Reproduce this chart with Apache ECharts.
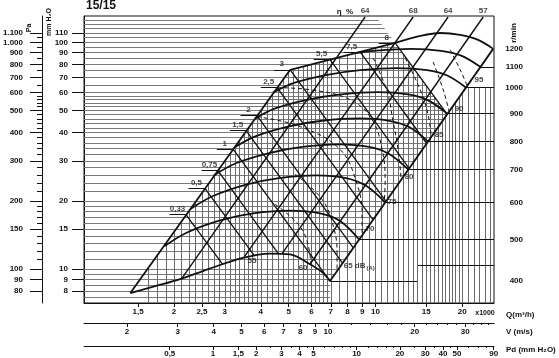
<!DOCTYPE html>
<html><head><meta charset="utf-8">
<script src="https://cdn.jsdelivr.net/npm/echarts@6/dist/echarts.min.js"></script>
<style>html,body{margin:0;padding:0;background:#fff}#c{width:559px;height:358px}</style>
</head><body><div id="c"></div>
<script>
// ---------- tick values ----------
const qTicks = [1.5,2,2.5,3,4,5,6,7,8,9,10,15,20];
const vTicks = [2,3,4,5,6,7,8,9,10,20,30];
const vMinor = [12,14,16,18,22,24,26,28,32,34,36];
const pdTicks = [0.5,1,1.5,2,3,4,5,10,20,30,40,50,90];
const pdMinor = [2.5,3.5,4.5,6,7,8,9,12,14,16,18,25,35,45,60,70,80];
const mmTicks = [8,9,10,15,20,30,40,50,60,70,80,90,100,110];
const paTicks = [80,90,100,150,200,300,400,500,600,700,800,900,1000,1100];
const paMinor = [110,120,130,140,160,170,180,190,220,240,260,280,320,340,360,380,420,440,460,480,520,540,560,580,650,750,850,950,1050];
const rpmLabels = ['400','500','600','700','800','900','1000','1100','1200'];

// ---------- background grid (values and extents) ----------
const hVals = [7.5,8,8.5,9,9.5,10,11,12,13,14,15,16,17,18,19,20,22,24,26,28,30,32,34,36,38,40,42,44,46,48,50,52,54,56,58,60,65,70,75,80,85,90,95,100,105,110,115,120,125];
const hEnd = [6.96,6.96,6.96,7.0,7.24,7.45,7.85,8.24,8.61,8.97,9.31,9.66,9.99,10.30,10.62,10.92,11.51,12.08,12.63,13.16,13.66,14.16,14.64,15.11,15.57,16.02,16.45,16.88,17.30,17.72,17.35,16.98,16.60,16.26,15.95,15.64,14.94,14.32,13.76,13.27,12.80,12.39,12.02,11.67,11.35,11.04,10.78,10.51,10.27];
const vVals = [1.625,1.75,1.875,2,2.125,2.25,2.375,2.5,2.625,2.75,2.875,3,3.125,3.25,3.375,3.5,3.625,3.75,3.875,4,4.2,4.4,4.6,4.8,5,5.2,5.4,5.6,5.8,6,6.2,6.4,6.6,6.8,7,7.5,8,8.5,9,9.5,10,10.5,11,11.5,12,12.5,13,13.5,14,14.5,15,15.5,16,16.5,17,17.5,18,18.5,19,19.5,20,21,22,23,24,25];
const vTop = [10.1,11.5,13.1,14.6,16.3,18.0,19.8,21.7,23.7,25.7,27.9,30.0,32.2,34.6,37.0,39.4,42.0,44.5,47.2,50.0,54.5,59.1,64.0,69.0,74.2,76.4,77.3,78.3,79.1,80.0,80.9,81.7,82.6,83.3,84.2,86.1,87.9,89.6,91.2,92.9,94.4,96.0,97.5,98.8,95.2,88.7,82.8,77.6,72.7,68.5,64.6,60.9,57.6,54.7,51.8,49.3,49.4,51.9,54.5,57.1,59.8,63.4,63.4,63.4,63.4,63.4];

// ---------- fan region outline ----------
const leftEdge = [[1.41,7.84],[5.06,75.7]];
const topEdge = [[5.06,75.7],[11.71,99.4]];
const rightEdge = [[6.96,8.85],[25.63,93.6]];

// ---------- speed curves (r/min) ----------
const arc400 = [[1.41,7.84],[1.72,8.41],[2.10,9.03],[2.63,10.0],[3.47,11.2],[4.31,11.7],[5.06,11.6],[5.93,10.5],[6.53,9.69],[6.96,8.85]];
const arc500 = [[1.85,12.6],[2.22,14.5],[2.89,16.4],[3.76,17.6],[5.06,18.1],[6.43,17.6],[7.54,16.3],[8.78,13.5]];
const arc600 = [[2.28,18.4],[2.73,21.0],[3.56,23.6],[4.63,25.2],[6.23,25.9],[7.91,25.2],[9.28,23.3],[10.81,19.7]];
const arc700 = [[2.75,25.9],[3.28,29.3],[4.28,32.5],[5.57,34.6],[7.48,35.5],[9.51,34.6],[11.16,32.2],[12.99,27.5]];
const arc800 = [[3.25,34.5],[3.85,38.6],[5.02,42.6],[6.53,45.1],[8.78,46.2],[11.16,45.1],[13.09,42.3],[15.24,36.5]];
const arc900 = [[3.82,46.1],[4.49,51.1],[5.84,55.9],[7.60,58.9],[10.22,60.3],[12.99,58.9],[15.24,55.5],[17.75,48.5]];
const arc1000 = [[4.41,60.0],[5.22,66.2],[6.80,71.9],[8.85,75.4],[11.90,77.0],[15.12,75.4],[17.75,71.4],[20.65,63.1]];
const arc1100 = [[8.51,89.6],[9.90,91.8],[13.31,93.6],[16.91,91.8],[19.85,87.4],[23.1,78.0]];
const arc1200 = [[11.71,99.4],[14.30,106.7],[16.78,110.0],[19.69,107.9],[22.73,102.5],[25.63,93.6]];
const rpmLineEnd = [13.96,25.8,25.8,25.8,25.8,25.8,25.8,25.8,25.8];
const extraLevel = [[14.07,10.41],[25.8,10.41]];

// ---------- efficiency lines ----------
const etaLabels = ['64','68','64','57'];
const eta1 = [[2.12,9.03],[9.21,129.4]];
const eta2 = [[3.50,11.3],[13.52,129.4]];
const eta3 = [[4.74,11.7],[17.88,129.4]];
const eta4 = [[5.93,10.5],[23.66,129.4]];

// ---------- power lines ----------
const powerLabels = ['0,33','0,5','0,75','1','1,5','2','2,5','3','5,5','7,5','8'];
const pw033 = [[2.20,17.4],[2.95,10.5]];
const pw05 = [[2.56,22.7],[3.81,11.4]];
const pw075 = [[2.84,27.2],[4.59,11.75]];
const pw1 = [[3.21,33.7],[6.96,8.85]];
const pw15 = [[3.56,40.8],[7.70,10.6]];
const pw2 = [[3.88,47.5],[8.38,12.4]];
const pw25 = [[4.56,63.1],[9.82,16.5]];
const pw3 = [[5.06,75.7],[10.88,19.9]];
const pw55 = [[6.96,84.0],[13.09,27.8]];
const pw75 = [[8.85,90.8],[15.07,35.8]];
const pw8 = [[11.71,99.4],[17.75,48.1]];

// ---------- noise lines dB(A) ----------
const n60 = [[4.49,19.3],[5.39,15.8],[5.79,13.3],[5.98,10.5]];
const n65 = [[5.26,26.2],[6.53,20.3],[7.19,15.0],[7.36,11.6],[7.36,9.8]];
const n70 = [[3.88,47.0],[5.48,42.5],[7.54,33.7],[8.64,23.6],[8.99,17.4],[8.99,14.1]];
const n75 = [[4.56,63.1],[5.93,61.8],[8.17,55.9],[9.74,45.6],[10.55,33.7],[10.81,24.9],[10.72,19.3]];
const n80 = [[9.82,85.4],[10.98,60.6],[11.52,44.7],[11.99,33.7],[12.28,24.9]];
const n85 = [[12.68,85.4],[14.30,61.8],[15.24,48.0],[15.61,38.4]];
const n90 = [[15.86,82.0],[17.19,61.8],[18.03,49.5]];
const n95 = [[18.18,92.7],[19.69,75.7],[20.82,64.4]];
const noiseLabels = ['55','60','65 dB','70','75','80','85','90','95'];
const noisePos = [[3.73,10.84],[5.61,10.1],[7.73,10.3],[9.21,15.0],[10.98,19.9],[12.58,25.6],[15.99,39.2],[18.76,51.0],[22.0,68.4]];

// ---------- axis ranges ----------
const Q_MIN = 0.974, Q_MAX = 25.8, P_MIN = 7.085, P_MAX = 130.7;

const FONT = 'Liberation Sans, Arial, sans-serif';
const txt = {fontFamily: FONT, fontWeight: 'bold', fontSize: 8, color: '#111'};
const BLACK = '#111';
const fmtComma = v => String(Math.round(v * 1000) / 1000).replace('.', ',');
const fmtPa = v => { const r = Math.round(v); return r >= 1000 ? Math.floor(r / 1000) + '.' + String(r % 1000).padStart(3, '0') : String(r); };
const arcsList = [arc400, arc500, arc600, arc700, arc800, arc900, arc1000, arc1100, arc1200];
const rpmP = arcsList.map(a => a[a.length - 1][1]);
const fmtRpm = v => { let b = 0, bd = 1e9; rpmP.forEach((p, i) => { const d = Math.abs(Math.log(v / p)); if (d < bd) { bd = d; b = i; } }); return rpmLabels[b]; };

const hideAll = {axisLine: {show: false}, axisTick: {show: false}, axisLabel: {show: false}, splitLine: {show: false}};
function logAxis(extra) {
  return Object.assign({type: 'log', logBase: 10, gridIndex: 0, splitLine: {show: false}, axisLine: {onZero: false, lineStyle: {color: BLACK, width: 1}}}, extra);
}

const series = [];
// grid lines
series.push({type: 'lines', coordinateSystem: 'cartesian2d', xAxisIndex: 0, yAxisIndex: 0, silent: true, z: 1,
  lineStyle: {color: '#7a7a7a', width: 1, opacity: 1},
  data: hVals.map((p, i) => ({coords: [[Q_MIN, p], [hEnd[i], p]]}))});
series.push({type: 'lines', coordinateSystem: 'cartesian2d', xAxisIndex: 0, yAxisIndex: 0, silent: true, z: 1,
  lineStyle: {color: '#6a6a6a', width: 1, opacity: 1},
  data: vVals.map((q, i) => ({coords: [[q, P_MIN], [q, vTop[i]]]}))});
// r/min level lines at the right
const levelData = arcsList.slice(0, 8).map((a, i) => ({coords: [a[a.length - 1], [rpmLineEnd[i], a[a.length - 1][1]]]}));
levelData.push({coords: extraLevel});
series.push({type: 'lines', coordinateSystem: 'cartesian2d', xAxisIndex: 0, yAxisIndex: 0, silent: true, z: 2,
  lineStyle: {color: BLACK, width: 1, opacity: 1}, data: levelData});

function line(data, width, extra) {
  return Object.assign({type: 'line', xAxisIndex: 0, yAxisIndex: 0, data: data, showSymbol: false, symbol: 'none', silent: true, z: 3,
    lineStyle: {color: BLACK, width: width}, animation: false}, extra || {});
}
// outline
[leftEdge, topEdge, rightEdge].forEach(d => series.push(line(d, 1.8)));
// speed curves
arcsList.forEach(a => series.push(line(a, 1.8, {smooth: 0.35})));
// efficiency lines
[eta1, eta2, eta3, eta4].forEach(d => series.push(line(d, 1.4)));
// power lines
const powerList = [pw033, pw05, pw075, pw1, pw15, pw2, pw25, pw3, pw55, pw75, pw8];
powerList.forEach(d => series.push(line(d, 1.3)));
// noise lines (dashed)
[n60, n65, n70, n75, n80, n85, n90, n95].forEach(d => series.push(line(d, 1, {smooth: 0.4, lineStyle: {color: BLACK, width: 1, type: [4, 3]}})));
// power label leaders
series.push({type: 'lines', coordinateSystem: 'cartesian2d', xAxisIndex: 0, yAxisIndex: 0, silent: true, z: 3,
  lineStyle: {color: BLACK, width: 1, opacity: 1},
  data: powerList.map(d => ({coords: [[d[0][0] / 1.14, d[0][1]], d[0]]}))});
// labels
series.push({type: 'scatter', xAxisIndex: 0, yAxisIndex: 0, silent: true, z: 6, symbolSize: 1, itemStyle: {color: 'transparent'},
  label: Object.assign({show: true, position: 'top', distance: 1}, txt),
  data: powerList.map((d, i) => ({value: [d[0][0] / 1.07, d[0][1]], label: {formatter: powerLabels[i]}}))});
series.push({type: 'scatter', xAxisIndex: 0, yAxisIndex: 0, silent: true, z: 6, symbolSize: 1, itemStyle: {color: 'transparent'},
  label: Object.assign({show: true, position: 'top', distance: 2}, txt),
  data: [eta1, eta2, eta3, eta4].map((d, i) => ({value: d[1], label: {formatter: etaLabels[i]}}))});
series.push({type: 'scatter', xAxisIndex: 0, yAxisIndex: 0, silent: true, z: 6, symbolSize: 1, itemStyle: {color: 'transparent'},
  label: Object.assign({show: true, position: 'right', distance: 0, rich: {s: {fontFamily: FONT, fontWeight: 'bold', fontSize: 6, color: '#111', padding: [5, 0, 0, 1]}}}, txt),
  data: noisePos.map((p, i) => ({value: p, label: i < 2 ? {position: 'inside', formatter: noiseLabels[i]} : {formatter: i === 2 ? noiseLabels[i] + '{s|(A)}' : noiseLabels[i]}}))});

const option = {
  animation: false,
  backgroundColor: '#fff',
  grid: [{left: 84, right: 65, top: 16, bottom: 54, show: true, borderColor: BLACK, borderWidth: 1}],
  xAxis: [
    logAxis({min: Q_MIN, max: Q_MAX, position: 'bottom',
      axisTick: {show: true, customValues: qTicks, length: 4, lineStyle: {color: BLACK}},
      axisLabel: Object.assign({show: true, customValues: qTicks, formatter: fmtComma, margin: 5}, txt)}),
    logAxis({min: 1.417, max: 37.76, position: 'bottom', offset: 20,
      axisTick: {show: true, customValues: vTicks, length: 4, lineStyle: {color: BLACK}},
      axisLabel: Object.assign({show: true, customValues: vTicks, formatter: fmtComma, margin: 5}, txt)}),
    logAxis(Object.assign({}, hideAll, {min: 1.417, max: 37.76, position: 'bottom', offset: 20,
      axisTick: {show: true, customValues: vMinor, length: 2, lineStyle: {color: BLACK}}})),
    logAxis({min: 0.1265, max: 90.5, position: 'bottom', offset: 43,
      axisTick: {show: true, customValues: pdTicks, length: 4, lineStyle: {color: BLACK}},
      axisLabel: Object.assign({show: true, customValues: pdTicks, formatter: fmtComma, margin: 4}, txt)}),
    logAxis(Object.assign({}, hideAll, {min: 0.1265, max: 90.5, position: 'bottom', offset: 43,
      axisTick: {show: true, customValues: pdMinor, length: 2, lineStyle: {color: BLACK}}}))
  ],
  yAxis: [
    logAxis({min: P_MIN, max: P_MAX, position: 'left',
      axisTick: {show: true, customValues: mmTicks, length: 12, lineStyle: {color: BLACK}},
      axisLabel: Object.assign({show: true, customValues: mmTicks, formatter: fmtComma, margin: 16}, txt)}),
    logAxis(Object.assign({}, hideAll, {min: P_MIN, max: P_MAX, position: 'right',
      axisLabel: Object.assign({show: true, customValues: rpmP, formatter: fmtRpm, margin: 29, align: 'right'}, txt)})),
    logAxis({min: P_MIN * 10, max: P_MAX * 10, position: 'left', offset: 42,
      axisTick: {show: true, customValues: paTicks, length: 12, lineStyle: {color: BLACK}},
      axisLabel: Object.assign({show: true, customValues: paTicks, formatter: fmtPa, margin: 19}, txt)}),
    logAxis(Object.assign({}, hideAll, {min: P_MIN * 10, max: P_MAX * 10, position: 'left', offset: 42,
      axisTick: {show: true, customValues: paMinor, length: 5, lineStyle: {color: BLACK}}}))
  ],
  graphic: [
    {type: 'text', x: 86, y: 0, style: {text: '15/15', font: 'bold 12px ' + FONT, fill: '#111'}},
    {type: 'text', x: 29, y: 28, rotation: Math.PI / 2, style: {text: 'Pa', font: 'bold 7px ' + FONT, fill: '#111', align: 'center', verticalAlign: 'middle', textAlign: 'center', textVerticalAlign: 'middle'}},
    {type: 'text', x: 49, y: 22, rotation: Math.PI / 2, style: {text: 'mm H\u2082O', font: 'bold 7px ' + FONT, fill: '#111', align: 'center', verticalAlign: 'middle', textAlign: 'center', textVerticalAlign: 'middle'}},
    {type: 'text', x: 514, y: 33, rotation: Math.PI / 2, style: {text: 'r/min', font: 'bold 8px ' + FONT, fill: '#111', align: 'center', verticalAlign: 'middle', textAlign: 'center', textVerticalAlign: 'middle'}},
    {type: 'text', x: 345, y: 12, style: {text: '\u03b7  %', font: 'bold 8px ' + FONT, fill: '#111', align: 'center', verticalAlign: 'middle', textAlign: 'center', textVerticalAlign: 'middle'}},
    {type: 'text', x: 485, y: 313, style: {text: 'x1000', font: 'bold 7px ' + FONT, fill: '#111', align: 'center', verticalAlign: 'middle', textAlign: 'center', textVerticalAlign: 'middle'}},
    {type: 'text', x: 506, y: 315, style: {text: 'Q(m\u00b3/h)', font: 'bold 8px ' + FONT, fill: '#111', align: 'left', verticalAlign: 'middle', textAlign: 'left', textVerticalAlign: 'middle'}},
    {type: 'text', x: 506, y: 332, style: {text: 'V (m/s)', font: 'bold 8px ' + FONT, fill: '#111', align: 'left', verticalAlign: 'middle', textAlign: 'left', textVerticalAlign: 'middle'}},
    {type: 'text', x: 506, y: 350, style: {text: 'Pd (mm H\u2082O)', font: 'bold 8px ' + FONT, fill: '#111', align: 'left', verticalAlign: 'middle', textAlign: 'left', textVerticalAlign: 'middle'}}
  ],
  series: series
};
const chart = echarts.init(document.getElementById('c'), null, {renderer: 'canvas'});
chart.setOption(option);
</script></body></html>
